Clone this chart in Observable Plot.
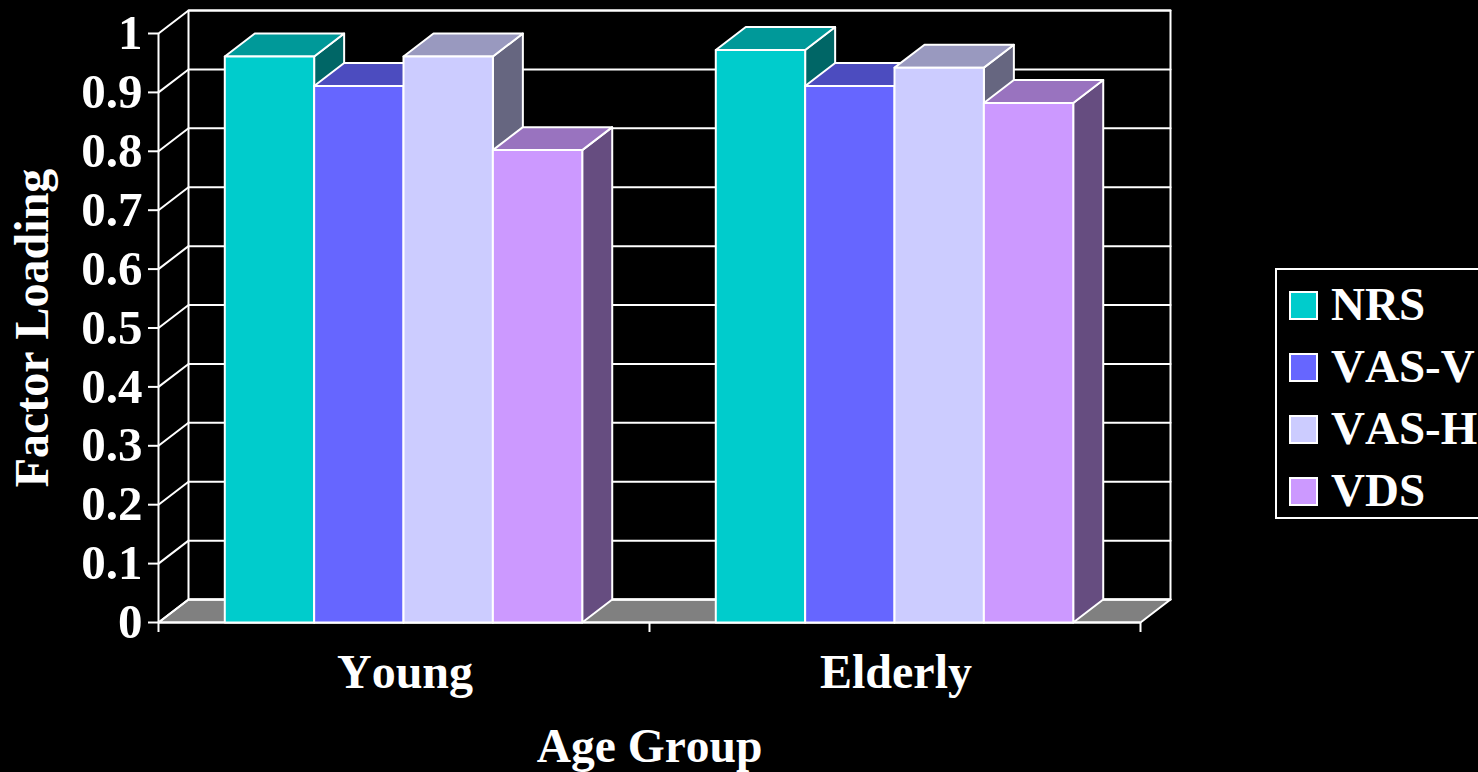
<!DOCTYPE html>
<html>
<head>
<meta charset="utf-8">
<script src="https://cdn.jsdelivr.net/npm/d3@7"></script>
<script src="https://cdn.jsdelivr.net/npm/@observablehq/plot@0.6"></script>
<style>
  html, body { margin: 0; padding: 0; background: #000; overflow: hidden; }
  #wrap { position: relative; width: 1478px; height: 772px; overflow: hidden; }
  #legend { position: absolute; left: 1275px; top: 268px; width: 240px; height: 251px; box-sizing: border-box;
    border: 2px solid #fff; background: #000; color: #fff; font: bold 47px "Liberation Serif", serif; font-kerning: none; }
  #legend div { position: absolute; left: 12px; height: 29px; line-height: 27px; white-space: nowrap; }
  #legend i { display: inline-block; width: 29px; height: 29px; box-sizing: border-box; border: 2px solid #fff; margin-right: 13px; vertical-align: top; }
</style>
</head>
<body>
<div id="wrap"></div>
<script>
const groups = ["Young", "Elderly"];
const seriesNames = ["NRS", "VAS-V", "VAS-H", "VDS"];
const young = [0.961, 0.911, 0.961, 0.802];
const elderly = [0.972, 0.911, 0.942, 0.882];
const frontColors = ["#00cccc", "#6666ff", "#ccccff", "#cc99ff"];
const topColors = ["#009999", "#4c4cbf", "#9999bf", "#9973bf"];
const sideColors = ["#006666", "#333380", "#666680", "#664d80"];
const yTicks = d3.range(0, 11).map((i) => i / 10);

// Geometry of the 3D box, in scale units: one category is one x unit.
const barWidth = 0.182;
const groupInset = 0.135;
const depthX = 0.0611;
const depthY = 0.039;
const floorColor = "#808080";

const values = [young, elderly];
const faces = [];
function face(id, fill, corners) {
  corners.forEach(([x, y]) => faces.push({id, fill, x, y}));
}
values.forEach((vals, g) => {
  vals.forEach((v, s) => {
    const x0 = g + groupInset + s * barWidth;
    const x1 = x0 + barWidth;
    const key = `${g}-${s}`;
    face(`side-${key}`, sideColors[s], [[x1, 0], [x1 + depthX, depthY], [x1 + depthX, v + depthY], [x1, v]]);
    face(`top-${key}`, topColors[s], [[x0, v], [x0 + depthX, v + depthY], [x1 + depthX, v + depthY], [x1, v]]);
    face(`front-${key}`, frontColors[s], [[x0, 0], [x1, 0], [x1, v], [x0, v]]);
  });
});

const floor = [[0, 0], [depthX, depthY], [2 + depthX, depthY], [2, 0]].map(([x, y]) => ({x, y}));
const wall = [[depthX, depthY], [depthX, 1 + depthY], [2 + depthX, 1 + depthY], [2 + depthX, depthY]].map(([x, y]) => ({x, y}));
const gridLines = yTicks.flatMap((t) => [
  {t, x: 0, y: t}, {t, x: depthX, y: t + depthY}, {t, x: 2 + depthX, y: t + depthY}
]);

const font = '"Liberation Serif", serif';
const lineWidth = 2;
const chart = Plot.plot({
  width: 1478,
  height: 772,
  marginLeft: 158,
  marginRight: 338,
  marginTop: 33,
  marginBottom: 150,
  style: {background: "#000", color: "#fff", fontFamily: font, fontWeight: "bold", overflow: "visible", fontKerning: "none"},
  x: {domain: [0, 2], axis: null},
  y: {domain: [0, 1], axis: null},
  marks: [
    Plot.line(floor, {x: "x", y: "y", curve: "linear-closed", fill: floorColor, stroke: "#fff", strokeWidth: lineWidth}),
    Plot.line(gridLines, {x: "x", y: "y", z: "t", stroke: "#fff", strokeWidth: lineWidth}),
    Plot.line(wall, {x: "x", y: "y", curve: "linear-closed", fill: "none", stroke: "#fff", strokeWidth: lineWidth}),
    Plot.ruleY([0], {x1: 0, x2: 2, stroke: "#fff", strokeWidth: lineWidth}),
    Plot.ruleX([0], {y1: 0, y2: 1, stroke: "#fff", strokeWidth: lineWidth}),
    Plot.axisY({
      ticks: yTicks, tickSize: 10, tickPadding: 6, tickFormat: (d) => d3.format("~g")(d),
      stroke: "#fff", strokeWidth: lineWidth, fontSize: 49, label: null, fill: "#fff"
    }),
    Plot.axisX({ticks: [0, 1, 2], tickSize: 10, tickFormat: () => "", stroke: "#fff", strokeWidth: lineWidth, label: null}),
    Plot.line(faces, {x: "x", y: "y", z: "id", curve: "linear-closed", fill: "fill", stroke: "#fff", strokeWidth: lineWidth}),
    Plot.text(groups, {x: (d, i) => i + 0.5, y: 0, text: (d) => d, dx: 1, dy: 50, fontSize: 48, fill: "#fff"}),
    Plot.text(["Age Group"], {x: 1, y: 0, dy: 124, fontSize: 47.5, fill: "#fff"}),
    Plot.text(["Factor Loading"], {x: 0, y: 0.5, dx: -126, dy: 0, rotate: -90, fontSize: 48, fill: "#fff"})
  ]
});
const wrap = document.getElementById("wrap");
wrap.appendChild(chart);

const legend = document.createElement("div");
legend.id = "legend";
const tops = [21, 83, 145, 207];
seriesNames.forEach((name, i) => {
  const row = document.createElement("div");
  row.style.top = tops[i] + "px";
  const swatch = document.createElement("i");
  swatch.style.background = frontColors[i];
  row.appendChild(swatch);
  row.appendChild(document.createTextNode(name));
  legend.appendChild(row);
});
wrap.appendChild(legend);
</script>
</body>
</html>
